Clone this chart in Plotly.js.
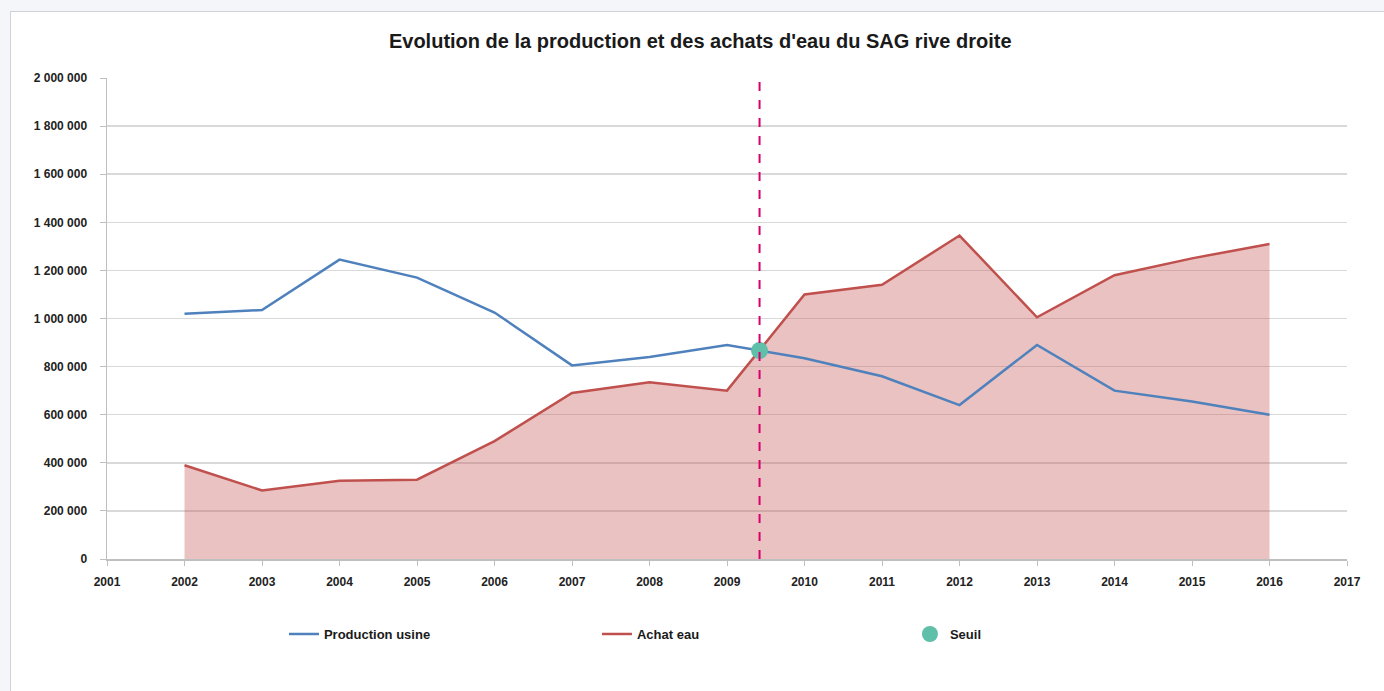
<!DOCTYPE html>
<html>
<head>
<meta charset="utf-8">
<script src="https://cdn.plot.ly/plotly-3.0.1.min.js"></script>
<style>
  html, body { margin: 0; padding: 0; background: #f4f6f9; width: 1384px; height: 691px; overflow: hidden; }
  #frame { position: absolute; left: 10px; top: 11px; width: 1374px; height: 680px; background: #fff;
           border-left: 1px solid #cfd3d8; border-top: 1px solid #cfd3d8; }
  #chart { width: 1373px; height: 679px; }
</style>
</head>
<body>
<div id="frame"><div id="chart"></div></div>
<script>
const years = [2002, 2003, 2004, 2005, 2006, 2007, 2008, 2009, 2010, 2011, 2012, 2013, 2014, 2015, 2016];
const productionUsine = [1020000, 1035000, 1245000, 1170000, 1025000, 805000, 840000, 890000, 835000, 760000, 640000, 890000, 700000, 655000, 600000];
const achatEau = [390000, 285000, 325000, 330000, 490000, 690000, 735000, 700000, 1100000, 1140000, 1345000, 1005000, 1180000, 1250000, 1310000];
const seuilX = [2009.42];
const seuilY = [867000];
const yTicks = [0, 200000, 400000, 600000, 800000, 1000000, 1200000, 1400000, 1600000, 1800000, 2000000];
const xTicks = [2001, 2002, 2003, 2004, 2005, 2006, 2007, 2008, 2009, 2010, 2011, 2012, 2013, 2014, 2015, 2016, 2017];
const seriesNames = ['Production usine', 'Achat eau', 'Seuil'];
const titleText = "Evolution de la production et des achats d'eau du SAG rive droite";

const FONT = 'Liberation Sans, Arial, sans-serif';

const achatFill = {
  x: years, y: achatEau, name: seriesNames[1], type: 'scatter', mode: 'lines',
  fill: 'tozeroy', fillcolor: 'rgba(192,80,77,0.35)',
  line: { color: 'rgba(0,0,0,0)', width: 0 }, showlegend: false, hoverinfo: 'skip'
};
const production = {
  x: years, y: productionUsine, name: seriesNames[0], type: 'scatter', mode: 'lines',
  line: { color: '#4f81bd', width: 2.5 }, legendrank: 1
};
const achatLine = {
  x: years, y: achatEau, name: seriesNames[1], type: 'scatter', mode: 'lines',
  line: { color: '#c0504d', width: 2.5 }, legendrank: 2
};
const seuil = {
  x: seuilX, y: seuilY, name: seriesNames[2], type: 'scatter', mode: 'markers',
  marker: { color: '#5fbfa8', size: 17 }, legendrank: 3
};

const data = [achatFill, achatLine, production, seuil];

const layout = {
  width: 1373, height: 679,
  paper_bgcolor: '#ffffff', plot_bgcolor: '#ffffff',
  separators: '. ',
  font: { family: FONT, color: '#222', size: 12 },
  margin: { l: 96, r: 37, t: 66, b: 132 },
  title: {
    text: '<b>' + titleText + '</b>',
    font: { family: FONT, size: 20, color: '#1a1a1a' },
    xref: 'container', x: 0.502, xanchor: 'center',
    yref: 'container', y: 0.958, yanchor: 'middle'
  },
  xaxis: {
    range: [2001, 2017], tickmode: 'array', tickvals: xTicks, ticktext: xTicks.map(String),
    showgrid: false, zeroline: false, showline: true, linecolor: '#bfbfbf', linewidth: 1.5,
    ticks: 'outside', ticklen: 5, tickcolor: '#bfbfbf', ticklabelstandoff: 6,
    tickfont: { family: FONT, size: 12, color: '#222', weight: 'bold' }
  },
  yaxis: {
    range: [0, 2000000], tickmode: 'array', tickvals: yTicks, tickformat: ',d',
    showgrid: true, gridcolor: '#d9d9d9', gridwidth: 1.5,
    zeroline: false, showline: true, linecolor: '#bfbfbf', linewidth: 1.5,
    ticks: 'outside', ticklen: 6, tickcolor: '#bfbfbf', ticklabelstandoff: 10,
    tickfont: { family: FONT, size: 12, color: '#222', weight: 'bold' }
  },
  shapes: [
    {
      type: 'line', xref: 'x', yref: 'y',
      x0: seuilX[0], x1: seuilX[0], y0: 0, y1: 2000000,
      line: { color: '#d6006f', width: 2, dash: 'dash' }, layer: 'above'
    }
  ],
  showlegend: true,
  legend: {
    orientation: 'h', x: 0.1427, xanchor: 'left', y: -0.156, yanchor: 'middle',
    entrywidth: 268, entrywidthmode: 'pixels', traceorder: 'normal',
    font: { family: FONT, size: 13, color: '#1a1a1a', weight: 'bold' },
    bgcolor: 'rgba(0,0,0,0)'
  }
};

Plotly.newPlot('chart', data, layout, { displayModeBar: false, staticPlot: true });
</script>
</body>
</html>
